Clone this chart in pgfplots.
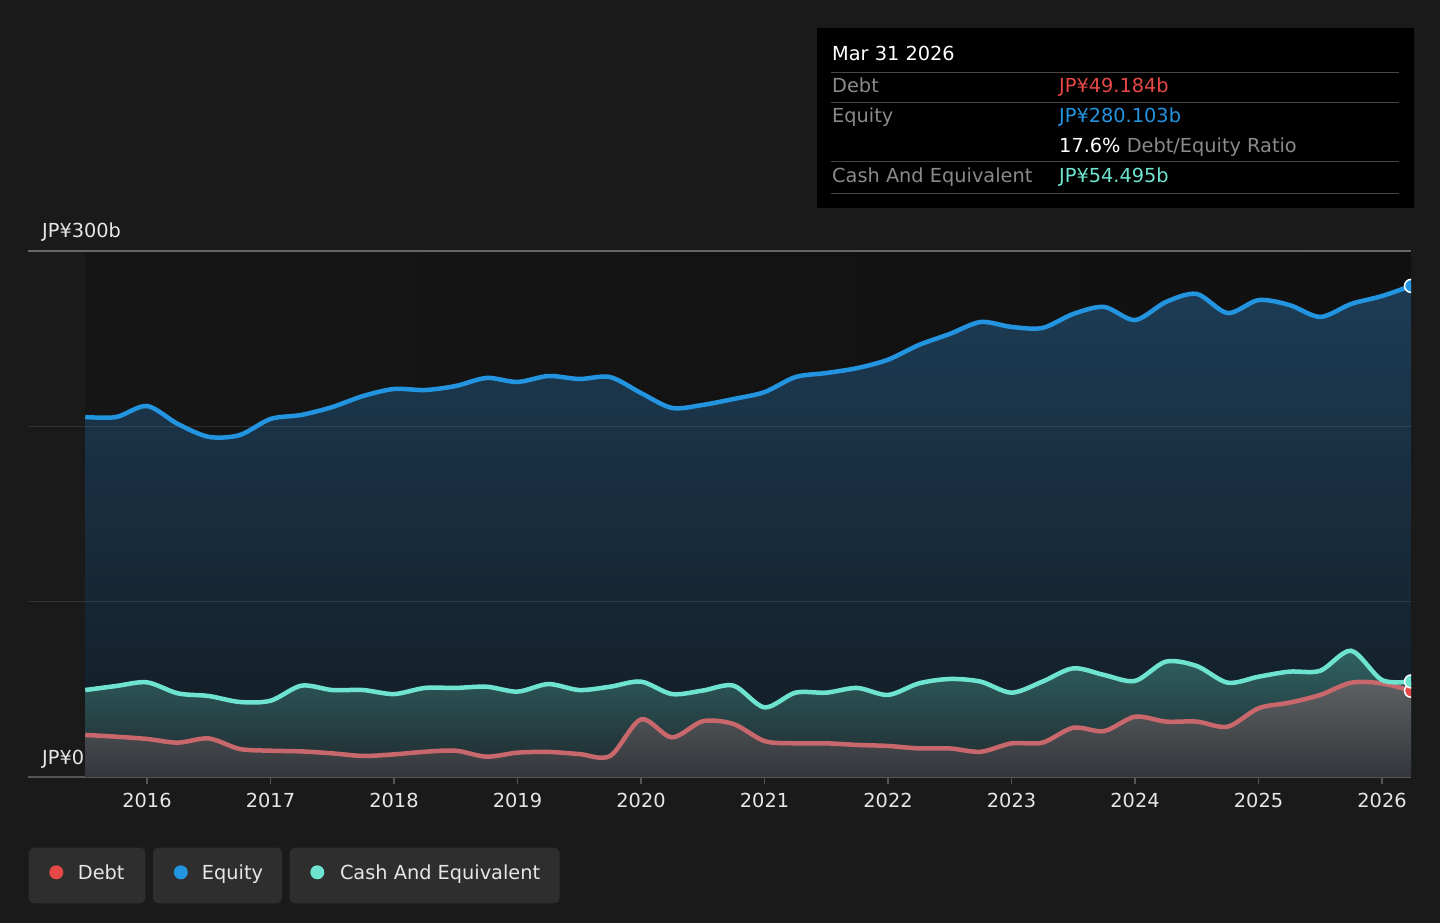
\documentclass[border=0pt]{standalone}
\usepackage{fontspec}
\setmainfont{DejaVu Sans}
\usepackage{pgfplots}
\pgfplotsset{compat=1.18}
\usepackage{pgfplotstable}
\definecolor{bg}{HTML}{1A1A1A}
\definecolor{plotL}{HTML}{161616}
\definecolor{plotR}{HTML}{101010}
\definecolor{eqc}{HTML}{2394DF}
\definecolor{cashc}{HTML}{6EE4D0}
\definecolor{debtc}{HTML}{E64848}
\definecolor{debtline}{HTML}{C9686C}
\definecolor{eqTop}{HTML}{1D3C55}
\definecolor{eqBot}{HTML}{121B22}
\definecolor{cashTop}{HTML}{2F6262}
\definecolor{cashBot}{HTML}{20292E}
\definecolor{debtTop}{HTML}{5E6164}
\definecolor{debtBot}{HTML}{33363A}
\definecolor{axisgray}{HTML}{555555}
\definecolor{labelc}{HTML}{E6E6E6}
\definecolor{dimtext}{HTML}{8A8A8A}
\definecolor{sepc}{HTML}{474747}
\definecolor{legbox}{HTML}{2E2E2E}

\pgfplotstableread{
x debt equity cash
2015.50 24.0 205.3 49.6
2015.75 23.0 205.3 51.9
2016.00 21.7 211.6 54.0
2016.25 19.6 201.3 47.7
2016.50 22.0 194.0 46.2
2016.75 16.0 195.0 42.8
2017.00 15.0 204.2 43.5
2017.25 14.6 206.5 52.1
2017.50 13.5 211.0 49.6
2017.75 12.0 217.3 49.6
2018.00 12.9 221.3 47.3
2018.25 14.4 220.7 50.8
2018.50 15.0 223.0 50.8
2018.75 11.6 227.6 51.5
2019.00 13.9 225.3 48.7
2019.25 14.3 228.7 53.0
2019.50 13.1 227.0 49.6
2019.75 12.0 228.1 51.5
2020.00 32.9 219.0 54.4
2020.25 22.6 210.5 47.3
2020.50 31.8 212.2 49.3
2020.75 30.2 215.6 52.1
2021.00 20.5 219.5 39.7
2021.25 19.2 228.1 48.1
2021.50 19.2 230.4 48.1
2021.75 18.3 233.2 50.8
2022.00 17.7 238.0 46.8
2022.25 16.3 246.4 53.4
2022.50 16.3 252.7 55.9
2022.75 14.4 259.5 54.4
2023.00 19.2 256.7 48.1
2023.25 19.6 256.1 54.4
2023.50 28.1 264.1 62.0
2023.75 26.2 268.1 58.2
2024.00 34.4 260.6 54.8
2024.25 31.6 270.9 65.8
2024.50 31.6 275.5 63.3
2024.75 28.7 264.6 53.8
2025.00 39.2 272.0 57.2
2025.25 42.4 269.2 60.1
2025.50 46.8 262.4 60.6
2025.75 53.8 269.8 72.0
2026.00 53.4 274.3 55.3
2026.235 49.2 280.1 54.5
}\data

\newcommand\fs{\fontsize{19.4}{23}\selectfont}

\begin{document}
\begin{tikzpicture}[x=1bp,y=1bp,font=\fs]
\fill[bg] (0,0) rectangle (1440,923);
\begin{axis}[
  at={(28bp,146bp)}, anchor=south west, scale only axis,
  width=1383bp, height=526bp,
  xmin=2015.0364, xmax=2026.235, ymin=0, ymax=300,
  axis x line=bottom, axis y line=none,
  x axis line style={-, draw=axisgray, line width=1.5bp},
  xtick={2016,2017,2018,2019,2020,2021,2022,2023,2024,2025,2026},
  xticklabels={2016,2017,2018,2019,2020,2021,2022,2023,2024,2025,2026},
  tick align=outside, major tick length=7bp,
  xtick style={draw=axisgray, line width=1.2bp},
  xticklabel style={text=labelc, font=\fs, yshift=-6bp},
  ytick=\empty,
  clip marker paths=true,
]
\fill[left color=plotL, right color=plotR] (axis cs:2015.5,0) rectangle (axis cs:2026.235,300);
\addplot[draw=none, top color=eqTop, bottom color=eqBot, smooth, tension=0.5] table[x=x,y=equity]{\data} \closedcycle;
\addplot[draw=none, top color=cashTop, bottom color=cashBot, smooth, tension=0.5] table[x=x,y=cash]{\data} \closedcycle;
\addplot[draw=none, top color=debtTop, bottom color=debtBot, smooth, tension=0.5] table[x=x,y=debt]{\data} \closedcycle;
\draw[white, opacity=0.1, line width=1.3bp] (axis cs:2015.0364,100) -- (axis cs:2026.235,100);
\draw[white, opacity=0.1, line width=1.3bp] (axis cs:2015.0364,200) -- (axis cs:2026.235,200);
\addplot[eqc, line width=4.5bp, smooth, tension=0.5] table[x=x,y=equity]{\data};
\addplot[debtline, line width=4.5bp, smooth, tension=0.5] table[x=x,y=debt]{\data};
\addplot[cashc, line width=4.5bp, smooth, tension=0.5] table[x=x,y=cash]{\data};
\addplot[only marks, mark=*, mark size=6.5bp, mark options={fill=eqc, draw=white, line width=1.5bp}] coordinates {(2026.235,280.1)};
\addplot[only marks, mark=*, mark size=6.5bp, mark options={fill=debtc, draw=white, line width=1.5bp}] coordinates {(2026.235,49.2)};
\addplot[only marks, mark=*, mark size=6.5bp, mark options={fill=cashc, draw=white, line width=1.5bp}] coordinates {(2026.235,54.5)};
\end{axis}
% top gridline
\draw[color=axisgray!90, line width=1.5bp] (28,672) -- (1411,672);
% axis labels
\node[anchor=base west, inner sep=0, text=labelc] at (42,685) {JP¥300b};
\node[anchor=base west, inner sep=0, text=labelc] at (42,159) {JP¥0};
% tooltip
\fill[black] (817,714.5) rectangle (1413.5,894.7);
\node[anchor=base west, inner sep=0, text=white] at (832,862) {Mar 31 2026};
\foreach \yy in {850.7,820.7,761.3,729.7} \draw[sepc, line width=1.5bp] (831,\yy) -- (1399,\yy);
\node[anchor=base west, inner sep=0, text=dimtext] at (832,830.5) {Debt};
\node[anchor=base west, inner sep=0, text=debtc] at (1059,830.5) {JP¥49.184b};
\node[anchor=base west, inner sep=0, text=dimtext] at (832,800.5) {Equity};
\node[anchor=base west, inner sep=0, text=eqc] at (1059,800.5) {JP¥280.103b};
\node[anchor=base west, inner sep=0] at (1059,770.5) {\textcolor{white}{17.6\%} \textcolor{dimtext}{Debt/Equity Ratio}};
\node[anchor=base west, inner sep=0, text=dimtext] at (832,740.5) {Cash And Equivalent};
\node[anchor=base west, inner sep=0, text=cashc] at (1059,740.5) {JP¥54.495b};
% legend
\fill[legbox, rounded corners=5bp] (28.7,19.7) rectangle (145.4,75.3);
\fill[legbox, rounded corners=5bp] (153,19.7) rectangle (282,75.3);
\fill[legbox, rounded corners=5bp] (289.7,19.7) rectangle (559.5,75.3);
\fill[debtc] (56.3,50.7) circle (7);
\fill[eqc] (180.8,50.7) circle (7);
\fill[cashc] (317.3,50.7) circle (7);
\node[anchor=base west, inner sep=0, text=labelc] at (77.7,43.7) {Debt};
\node[anchor=base west, inner sep=0, text=labelc] at (201.7,43.7) {Equity};
\node[anchor=base west, inner sep=0, text=labelc] at (339.8,43.7) {Cash And Equivalent};
\pgfresetboundingbox
\useasboundingbox (0,0) rectangle (1440,923);
\end{tikzpicture}
\end{document}
